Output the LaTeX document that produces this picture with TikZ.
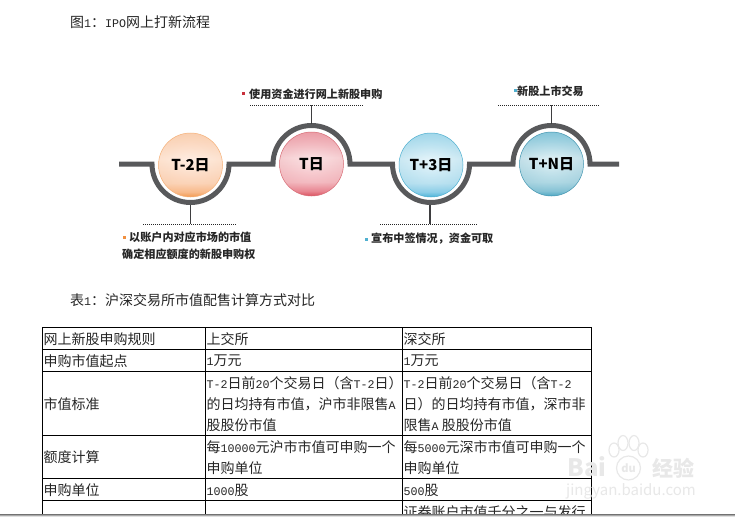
\documentclass[tikz,border=0pt]{standalone}
\usepackage{fontspec}
\setmainfont{Noto Sans CJK SC}
\newfontfamily\latmono{Liberation Mono}
\usetikzlibrary{fadings}
\definecolor{ink}{HTML}{262626}
\definecolor{track}{HTML}{58595B}
\definecolor{bulR}{HTML}{C8303C}
\definecolor{bulO}{HTML}{F09040}
\definecolor{bulB}{HTML}{50B0D0}
\definecolor{mark}{HTML}{E8E8E8}
\newcommand{\lat}[1]{{\latmono\fontsize{11.67}{21}\selectfont #1}}
\definecolor{oa}{HTML}{F29448}\definecolor{ob}{HTML}{F9BC8E}\definecolor{oc}{HTML}{FCD8C0}\definecolor{od}{HTML}{FFEEE4}\definecolor{oe}{HTML}{FBD6BE}
\definecolor{ra}{HTML}{DC4C5C}\definecolor{rb}{HTML}{EC8C98}\definecolor{rc}{HTML}{F7C4CA}\definecolor{rd}{HTML}{FCE4E6}\definecolor{re}{HTML}{F0A8B2}
\definecolor{ba}{HTML}{4CB4DC}\definecolor{bb}{HTML}{98D4EC}\definecolor{bc}{HTML}{C8E8F5}\definecolor{bd}{HTML}{E8F6FB}\definecolor{be}{HTML}{B4E0F0}
\definecolor{ta}{HTML}{50ACC8}\definecolor{tb}{HTML}{94CCDC}\definecolor{tc}{HTML}{BCE0EA}\definecolor{td}{HTML}{E2F2F6}\definecolor{te}{HTML}{94D0E2}
\pgfdeclareverticalshading{ballO}{100bp}{color(0bp)=(oa);color(25bp)=(oa);color(29bp)=(ob);color(36bp)=(oc);color(55bp)=(od);color(75bp)=(oe);color(100bp)=(oe)}
\pgfdeclareverticalshading{ballR}{100bp}{color(0bp)=(ra);color(25bp)=(ra);color(29bp)=(rb);color(36bp)=(rc);color(55bp)=(rd);color(75bp)=(re);color(100bp)=(re)}
\pgfdeclareverticalshading{ballB}{100bp}{color(0bp)=(ba);color(25bp)=(ba);color(29bp)=(bb);color(36bp)=(bc);color(55bp)=(bd);color(75bp)=(be);color(100bp)=(be)}
\pgfdeclareverticalshading{ballT}{100bp}{color(0bp)=(ta);color(25bp)=(ta);color(29bp)=(tb);color(36bp)=(tc);color(55bp)=(td);color(75bp)=(te);color(100bp)=(te)}
\tikzfading[name=rimfade,inner color=transparent!100,outer color=transparent!25]
\tikzset{
  x=1pt,y=1pt,
  trackline/.style={draw=track,line width=5pt,line cap=butt,line join=miter},
  stem/.style={draw=track!70!black,line width=1.1pt},
  dots/.style={draw=ink,line width=0.9pt,dash pattern=on 1pt off 1pt},
  ball/.style={circle,minimum size=63pt,inner sep=0pt,text=black,font=\bfseries\fontsize{15}{15}\selectfont},
  note/.style={anchor=west,inner sep=0pt,text=ink,font=\bfseries\fontsize{11.1}{17}\selectfont},
  caption/.style={anchor=west,inner sep=0pt,text=ink,font=\fontsize{14}{21}\selectfont},
  cell/.style={anchor=west,align=left,inner sep=0pt,text=ink,font=\fontsize{14}{21}\selectfont},
  grid/.style={draw=black,line width=0.9pt},
  wm/.style={inner sep=0pt,text=mark},
  pawline/.style={draw=mark,line width=1.2pt}
}
\newcommand{\ballat}[6]{% name,x,y,shading,rim,label
  \shade[shading=#4] (#2,#3) circle[radius=32];
  \fill[#5,path fading=rimfade,opacity=.25] (#2,#3) circle[radius=32];
  \draw[#5,line width=.5pt] (#2,#3) circle[radius=32];
  \node[ball] (#1) at (#2,#3) {#6};
}
\begin{document}
\begin{tikzpicture}
\useasboundingbox (0,-516) rectangle (735,0);
\fill[white] (0,-516) rectangle (735,0);

% captions
\node[caption] (cap1) at (70,-22) {图\lat{1}：\lat{IPO}网上打新流程};
\node[caption] (cap2) at (70,-300) {表\lat{1}：沪深交易所市值配售计算方式对比};

% track
\draw[trackline] (119,-164) -- (152,-164) arc[start angle=180,end angle=360,radius=38.5] -- (273,-164)
  arc[start angle=180,end angle=0,radius=38.5] -- (392.5,-164)
  arc[start angle=180,end angle=360,radius=38.5] -- (513,-164)
  arc[start angle=180,end angle=0,radius=38.5] -- (619,-164);

\coordinate (a1) at (190.5,-205); \coordinate (d1) at (190.5,-224);
\coordinate (a2) at (311.5,-124); \coordinate (d2) at (311.5,-105);
\coordinate (a3) at (430,-205);   \coordinate (d3) at (430,-224);
\coordinate (a4) at (551.5,-124); \coordinate (d4) at (551.5,-105);
\draw[stem] (a1) -- (d1);
\draw[stem] (a2) -- (d2);
\draw[stem] (a3) -- (d3);
\draw[stem] (a4) -- (d4);
\coordinate (l1) at (143,-224); \coordinate (r1) at (236,-224);
\coordinate (l2) at (250,-105); \coordinate (r2) at (364,-105);
\coordinate (l3) at (380,-224); \coordinate (r3) at (477,-224);
\coordinate (l4) at (498,-105); \coordinate (r4) at (599,-105);
\draw[dots] (l1) -- (r1);
\draw[dots] (l2) -- (r2);
\draw[dots] (l3) -- (r3);
\draw[dots] (l4) -- (r4);

% balls
\ballat{b1}{190.5}{-165}{ballO}{bulO!70!white}{T-2日}
\ballat{b2}{311.5}{-164}{ballR}{bulR!70!white}{T日}
\ballat{b3}{431}{-165}{ballB}{bulB}{T+3日}
\ballat{b4}{551.5}{-164}{ballT}{bulB!85!black}{T+N日}

% notes
\fill[bulO] (122.5,-238.5) rectangle +(3,3);
\node[note] (n1a) at (129,-237) {以账户内对应市场的市值};
\node[note] (n1b) at (122,-254) {确定相应额度的新股申购权};
\fill[bulR] (242,-95.5) rectangle +(3,3);
\node[note] (n2) at (249,-94) {使用资金进行网上新股申购};
\fill[bulB] (365,-240.5) rectangle +(3,3);
\node[note] (n3) at (371,-239) {宣布中签情况，资金可取};
\fill[bulB] (514,-92.5) rectangle +(3,3);
\node[note] (n4) at (517,-91) {新股上市交易};

% table
\begin{scope}
\clip (0,-514) rectangle (735,0);
\foreach \yy in {-327.5,-349.5,-371.5,-435.5,-478.5,-500.5}
  \draw[grid] (42.5,\yy) -- (591.5,\yy);
\foreach \xx in {42.5,205.5,402.5,591.5}
  \draw[grid] (\xx,-327) -- (\xx,-516);
\node[cell] (c11) at (43.5,-339) {网上新股申购规则};
\node[cell] (c12) at (206.5,-339) {上交所};
\node[cell] (c13) at (403.5,-339) {深交所};
\node[cell] (c21) at (43.5,-361) {申购市值起点};
\node[cell] (c22) at (206.5,-361) {\lat{1}万元};
\node[cell] (c23) at (403.5,-361) {\lat{1}万元};
\node[cell] (c31) at (43.5,-404) {市值标准};
\node[cell] (c32) at (206.5,-404) {\lat{T-2}日前\lat{20}个交易日（含\lat{T-2}日）\\的日均持有市值，沪市非限售\lat{A}\\股股份市值};
\node[cell] (c33) at (403.5,-404) {\lat{T-2}日前\lat{20}个交易日（含\lat{T-2}\\日）的日均持有市值，深市非\\限售\lat{A} 股股份市值};
\node[cell] (c41) at (43.5,-457) {额度计算};
\node[cell] (c42) at (206.5,-458) {每\lat{10000}元沪市市值可申购一个\\申购单位};
\node[cell] (c43) at (403.5,-458) {每\lat{5000}元深市市值可申购一个\\申购单位};
\node[cell] (c51) at (43.5,-490) {申购单位};
\node[cell] (c52) at (206.5,-490) {\lat{1000}股};
\node[cell] (c53) at (403.5,-490) {\lat{500}股};
\node[cell] (c63) at (403.5,-512) {证券账户市值千分之一与发行};
\end{scope}

% bottom strip
\shade[top color=black!55,bottom color=black!12] (0,-516) rectangle (735,-514);

% watermark
\begin{scope}
\foreach \px/\py/\ra/\rb in {614/-450/5/7,623/-443/5/7.5,634/-443/5/7.5,643/-450/5/7}
  \draw[pawline] (\px,\py) ellipse[x radius=\ra,y radius=\rb];
\draw[pawline] (628.5,-468) circle[radius=12];
\node[wm,font=\bfseries\fontsize{24}{24}\selectfont] (wmb) at (587,-467) {Bai};
\node[wm,font=\bfseries\fontsize{11}{11}\selectfont] (wmd) at (628.5,-468) {du};
\node[wm,font=\bfseries\fontsize{21}{21}\selectfont] (wmj) at (673,-468) {经验};
\node[wm,font=\fontsize{15}{15}\selectfont] (wmu) at (631,-491) {jingyan.baidu.com};
\end{scope}
\end{tikzpicture}
\end{document}
